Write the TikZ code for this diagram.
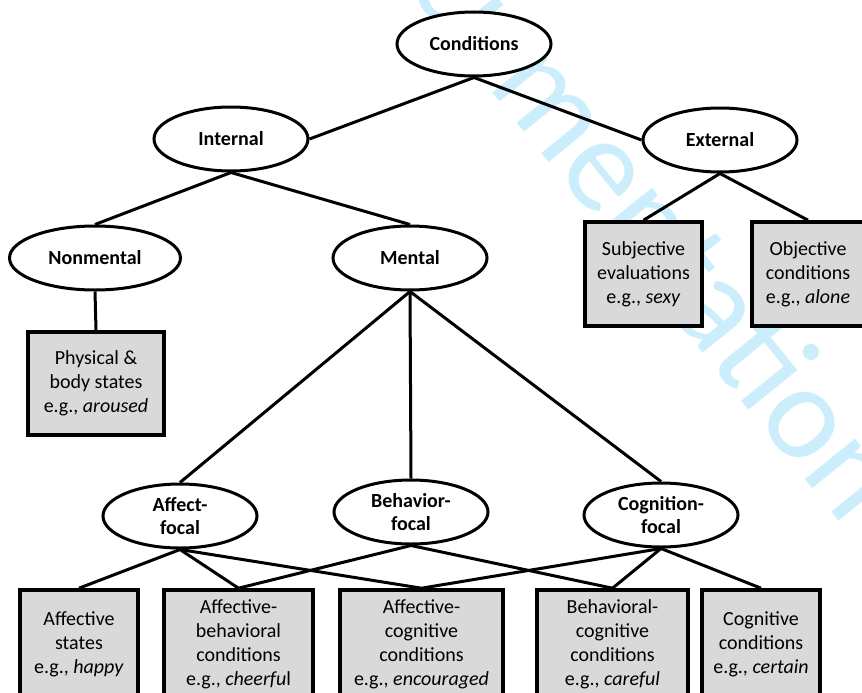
\documentclass[tikz,border=0pt]{standalone}
\usepackage{fontspec}
\setmainfont{Carlito}
\usetikzlibrary{shapes.geometric}
\definecolor{boxgray}{RGB}{217,217,217}
\definecolor{wmblue}{RGB}{204,238,252}

\begin{document}
\begin{tikzpicture}[x=1pt,y=-1pt,
  cat/.style={ellipse, draw, line width=3pt, fill=white,
    minimum width=154pt, minimum height=64pt, inner sep=0pt,
    align=center, font=\bfseries\fontsize{20}{23}\selectfont},
  leaf/.style 2 args={rectangle, draw, line width=3.6pt, fill=boxgray,
    minimum width=#1, minimum height=#2, inner sep=0pt,
    align=center, font=\fontsize{20}{24}\selectfont},
  link/.style={line width=3pt},
  wmark/.style={text=wmblue, inner sep=0pt, anchor=base, rotate=-51,
    font=\fontsize{135}{135}\selectfont}
]
\useasboundingbox (0,0) rectangle (862,693);
\clip (0,0) rectangle (862,693);

% faint watermark behind everything
\node[wmark] (wm) at (625,257) {cumentation};

% category ellipses
\node[cat] (cond) at (474,44) {Conditions};
\node[cat] (int)  at (231,139) {Internal};
\node[cat] (ext)  at (720,140) {External};
\node[cat, minimum width=171pt] (nonm) at (95,258) {Nonmental};
\node[cat] (ment) at (410,258) {Mental};
\node[cat] (aff)  at (180,516) {Affect-\\focal};
\node[cat] (beh)  at (411,512) {Behavior-\\focal};
\node[cat] (cog)  at (661,515) {Cognition-\\focal};

% example boxes
\node[leaf={136pt}{103pt}] (phys) at (96,383.5) {Physical \&\\body states\\e.g., \textit{aroused}};
\node[leaf={117pt}{104pt}] (subj) at (643.5,274) {Subjective\\evaluations\\e.g., \textit{sexy}};
\node[leaf={112pt}{104pt}] (obj)  at (808,274) {Objective\\conditions\\e.g., \textit{alone}};
\node[leaf={118pt}{108pt}] (astate) at (79,644) {Affective\\states\\e.g., \textit{happy}};
\node[leaf={149pt}{108pt}] (abeh) at (238.5,644) {Affective-\\behavioral\\conditions\\e.g., \textit{cheerfu}l};
\node[leaf={163pt}{108pt}] (acog) at (421.5,644) {Affective-\\cognitive\\conditions\\e.g., \textit{encouraged}};
\node[leaf={151pt}{108pt}] (bcog) at (612.5,644) {Behavioral-\\cognitive\\conditions\\e.g., \textit{careful}};
\node[leaf={118pt}{108pt}] (ccond) at (761,644) {Cognitive\\conditions\\e.g., \textit{certain}};

% tree connectors
\draw[link] (cond.south) -- (int.east);
\draw[link] (cond.south) -- (ext.west);
\draw[link] (int.south) -- (nonm.north);
\draw[link] (int.south) -- (ment.north);
\draw[link] (ext.south) -- (subj.north);
\draw[link] (ext.south) -- (obj.north);
\draw[link] (nonm.south) -- (phys.north);
\draw[link] (ment.south) -- (aff.north);
\draw[link] (ment.south) -- (beh.north);
\draw[link] (ment.south) -- (cog.north);
\draw[link] (aff.south) -- (astate.north);
\draw[link] (aff.south) -- (abeh.north);
\draw[link] (aff.south) -- (acog.north);
\draw[link] (beh.south) -- (abeh.north);
\draw[link] (beh.south) -- (bcog.north);
\draw[link] (cog.south) -- (acog.north);
\draw[link] (cog.south) -- (bcog.north);
\draw[link] (cog.south) -- (ccond.north);
\end{tikzpicture}
\end{document}
